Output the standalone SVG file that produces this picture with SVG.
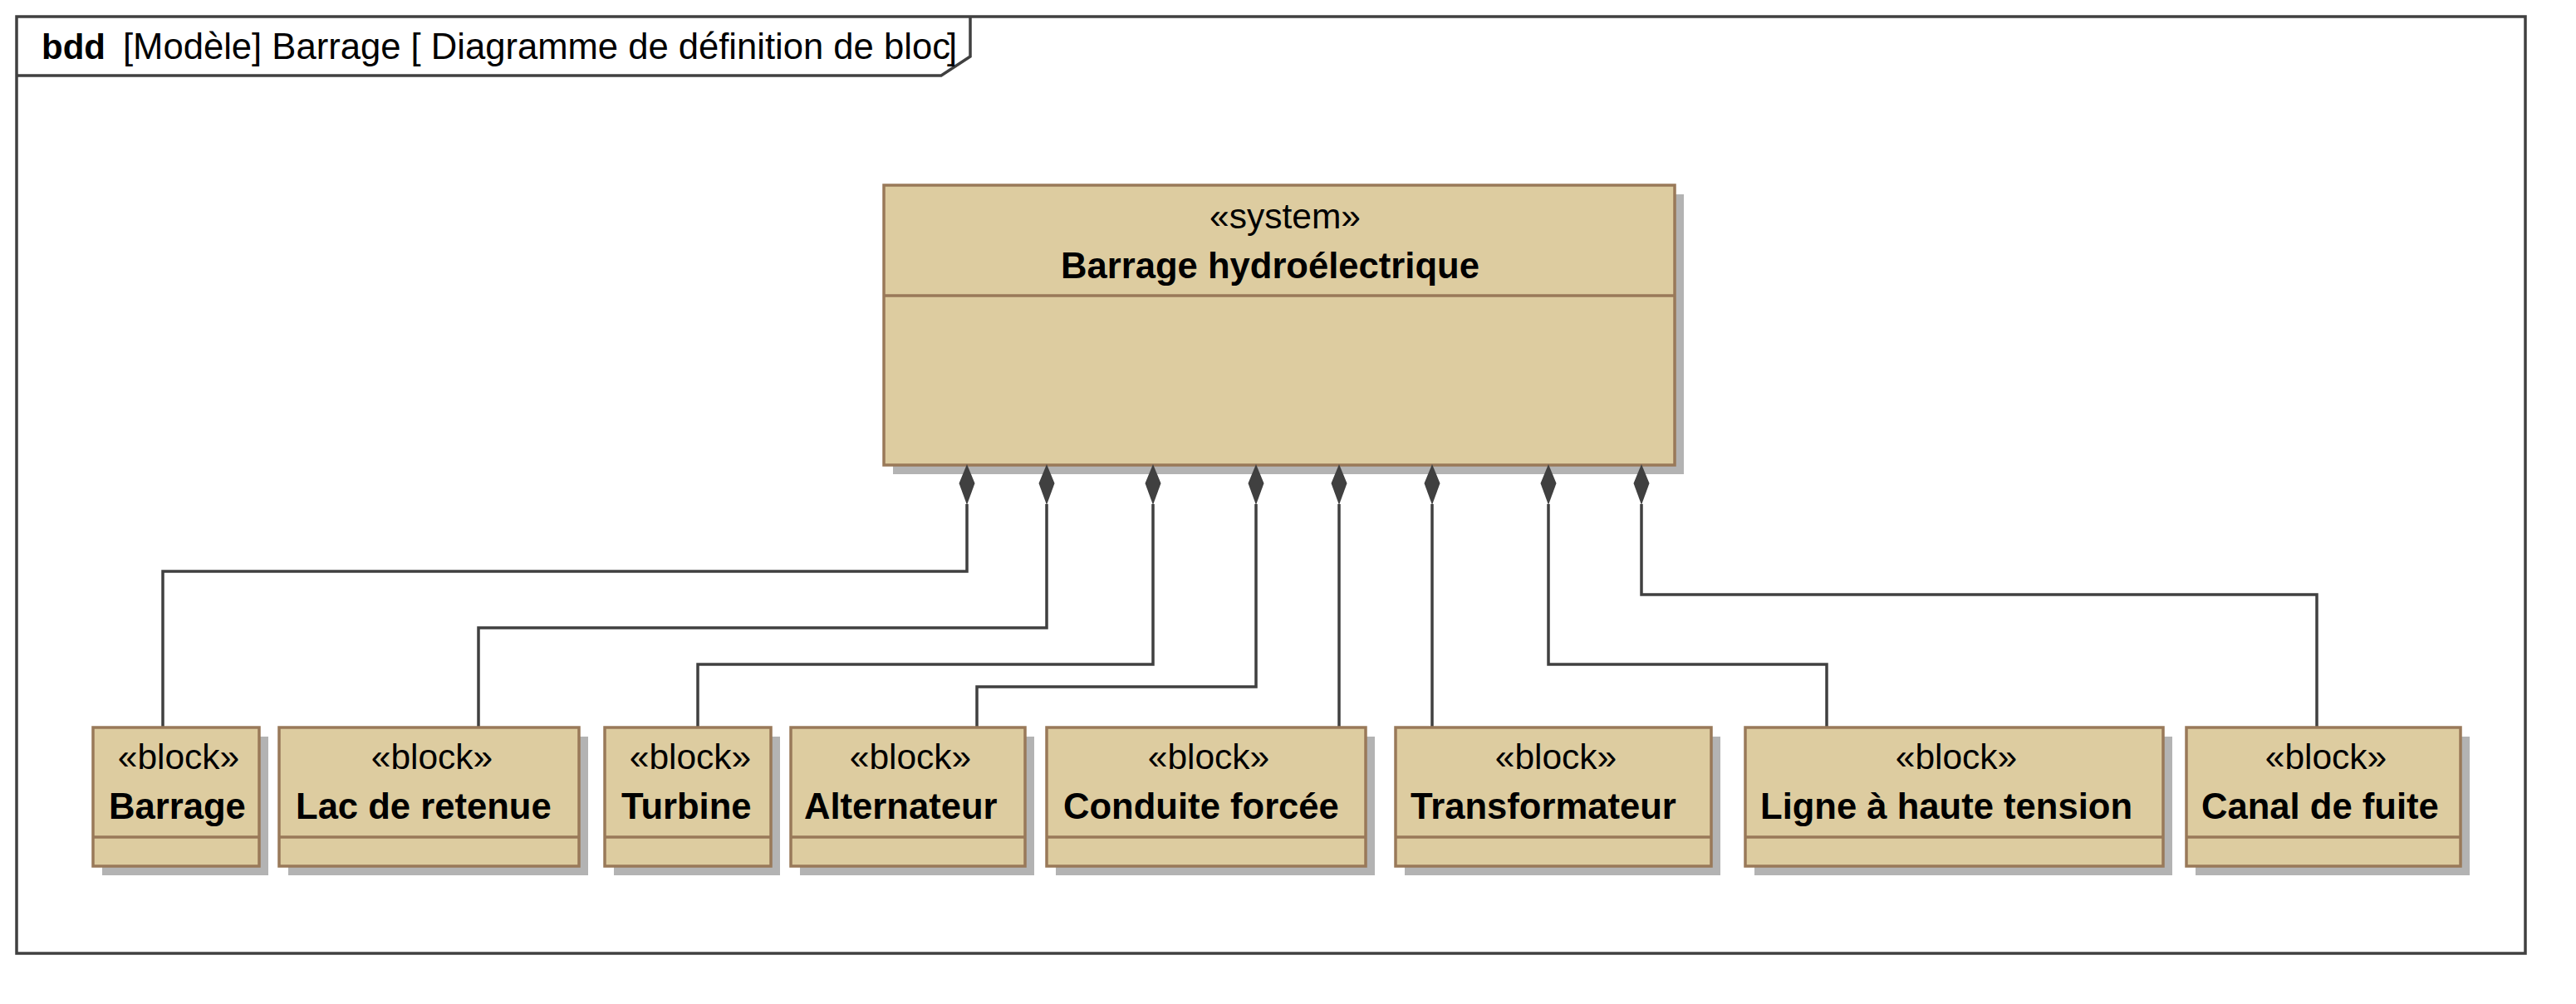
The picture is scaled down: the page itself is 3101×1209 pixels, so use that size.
<svg xmlns="http://www.w3.org/2000/svg" width="3101" height="1209" viewBox="0 0 3101 1209">
<style>
.frame{fill:none;stroke:#404040;stroke-width:3.5}
.blk{fill:#DDCCA0;stroke:#997959;stroke-width:3.5}
.sep{stroke:#997959;stroke-width:3.5}
.shd{fill:#B3B3B3}
.conn{fill:none;stroke:#404040;stroke-width:3.5}
.dia{fill:#404040;stroke:none}
text{font-family:"Liberation Sans",Arial,sans-serif;font-size:43.6px;fill:#000}
.st{text-anchor:middle;font-size:42.5px}
.nm{font-weight:bold}
.b{font-weight:bold;font-size:42px}
</style>
<defs>
<clipPath id="tabclip"><rect x="20" y="20" width="1128" height="72"/></clipPath>
<path id="diam" d="M0,-1 L9.5,22 L0,48 L-9.5,22 Z"/>
</defs>
<rect width="3101" height="1209" fill="#fff"/>
<g id="frame">
<rect class="frame" x="20" y="20" width="3020" height="1128"/>
<path class="frame" d="M20,91 H1133 L1168,68 V20"/>
<text x="50" y="71" class="b">bdd</text>
<g clip-path="url(#tabclip)">
<text x="148" y="71">[Modèle] Barrage [ Diagramme de définition de bloc</text>
</g>
<text x="1140" y="71">]</text>
</g>
<g id="connectors">
<path class="conn" d="M1164,607 V688 H196 V876"/>
<path class="conn" d="M1260,607 V756 H576 V876"/>
<path class="conn" d="M1388,607 V800 H840 V876"/>
<path class="conn" d="M1512,607 V827 H1176 V876"/>
<path class="conn" d="M1612,607 V876"/>
<path class="conn" d="M1724,607 V876"/>
<path class="conn" d="M1864,607 V800 H2199 V876"/>
<path class="conn" d="M1976,607 V716 H2789 V876"/>
</g>
<g id="system">
<rect class="shd" x="1075" y="234" width="952" height="337"/>
<rect class="blk" x="1064" y="223" width="952" height="337"/>
<line class="sep" x1="1064" y1="356" x2="2016" y2="356"/>
<text class="st" x="1547" y="275">«system»</text>
<text class="nm" x="1277" y="335">Barrage hydroélectrique</text>
</g>
<g id="diamonds">
<use href="#diam" class="dia" x="1164" y="560"/>
<use href="#diam" class="dia" x="1260" y="560"/>
<use href="#diam" class="dia" x="1388" y="560"/>
<use href="#diam" class="dia" x="1512" y="560"/>
<use href="#diam" class="dia" x="1612" y="560"/>
<use href="#diam" class="dia" x="1724" y="560"/>
<use href="#diam" class="dia" x="1864" y="560"/>
<use href="#diam" class="dia" x="1976" y="560"/>
</g>
<g id="b-barrage">
<rect class="shd" x="123" y="887" width="200" height="167"/>
<rect class="blk" x="112" y="876" width="200" height="167"/>
<line class="sep" x1="112" y1="1008" x2="312" y2="1008"/>
<text class="st" x="215" y="926">«block»</text>
<text class="nm" x="131" y="986">Barrage</text>
</g>
<g id="b-lac">
<rect class="shd" x="347" y="887" width="361" height="167"/>
<rect class="blk" x="336" y="876" width="361" height="167"/>
<line class="sep" x1="336" y1="1008" x2="697" y2="1008"/>
<text class="st" x="520" y="926">«block»</text>
<text class="nm" x="356" y="986">Lac de retenue</text>
</g>
<g id="b-turbine">
<rect class="shd" x="739" y="887" width="200" height="167"/>
<rect class="blk" x="728" y="876" width="200" height="167"/>
<line class="sep" x1="728" y1="1008" x2="928" y2="1008"/>
<text class="st" x="831" y="926">«block»</text>
<text class="nm" x="748" y="986">Turbine</text>
</g>
<g id="b-alternateur">
<rect class="shd" x="963" y="887" width="282" height="167"/>
<rect class="blk" x="952" y="876" width="282" height="167"/>
<line class="sep" x1="952" y1="1008" x2="1234" y2="1008"/>
<text class="st" x="1096" y="926">«block»</text>
<text class="nm" x="968" y="986">Alternateur</text>
</g>
<g id="b-conduite">
<rect class="shd" x="1271" y="887" width="384" height="167"/>
<rect class="blk" x="1260" y="876" width="384" height="167"/>
<line class="sep" x1="1260" y1="1008" x2="1644" y2="1008"/>
<text class="st" x="1455" y="926">«block»</text>
<text class="nm" x="1280" y="986">Conduite forcée</text>
</g>
<g id="b-transformateur">
<rect class="shd" x="1691" y="887" width="380" height="167"/>
<rect class="blk" x="1680" y="876" width="380" height="167"/>
<line class="sep" x1="1680" y1="1008" x2="2060" y2="1008"/>
<text class="st" x="1873" y="926">«block»</text>
<text class="nm" x="1698" y="986">Transformateur</text>
</g>
<g id="b-ligne">
<rect class="shd" x="2112" y="887" width="503" height="167"/>
<rect class="blk" x="2101" y="876" width="503" height="167"/>
<line class="sep" x1="2101" y1="1008" x2="2604" y2="1008"/>
<text class="st" x="2355" y="926">«block»</text>
<text class="nm" x="2119" y="986">Ligne à haute tension</text>
</g>
<g id="b-canal">
<rect class="shd" x="2643" y="887" width="330" height="167"/>
<rect class="blk" x="2632" y="876" width="330" height="167"/>
<line class="sep" x1="2632" y1="1008" x2="2962" y2="1008"/>
<text class="st" x="2800" y="926">«block»</text>
<text class="nm" x="2650" y="986">Canal de fuite</text>
</g>
</svg>
